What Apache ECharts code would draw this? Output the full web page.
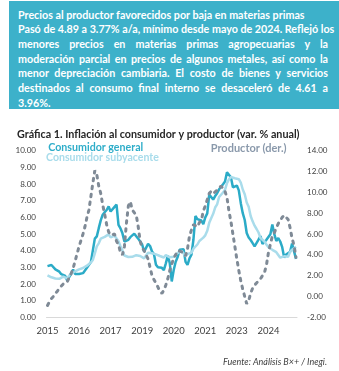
<!DOCTYPE html>
<html><head><meta charset="utf-8">
<script src="https://cdn.jsdelivr.net/npm/echarts@6/dist/echarts.min.js"></script>
<style>
html,body{margin:0;padding:0;background:#fff;width:339px;height:371px;overflow:hidden;}
#chart{position:absolute;left:0;top:0;width:339px;height:371px;}
#hdr{position:absolute;z-index:2;left:9px;top:1px;width:330px;height:108px;background:#3DB1CA;color:#fff;
 font-family:Lato,"Noto Sans",sans-serif;font-weight:700;box-sizing:border-box;padding:6.6px 11px 0 9px;}
#hdr div{line-height:14.7px;white-space:nowrap;}
#hdr div.j{text-align:justify;text-align-last:justify;}
</style></head>
<body>
<div id="chart"></div>
<div id="hdr">
<div id="h0">Precios al productor favorecidos por baja en materias primas</div>
<div class="j">Pasó de 4.89 a 3.77% a/a, mínimo desde mayo de 2024. Reflejó los</div>
<div class="j">menores precios en materias primas agropecuarias y la</div>
<div class="j">moderación parcial en precios de algunos metales, así como la</div>
<div class="j">menor depreciación cambiaria. El costo de bienes y servicios</div>
<div class="j">destinados al consumo final interno se desaceleró de 4.61 a</div>
<div>3.96%.</div>
</div>
<script>
// ---- data (monthly, Jan 2015 - Jul 2025) ----
const startYear = 2015, lastYear = 2025, lastMonth = 7;
const categories = [];
for (let y = startYear; y <= lastYear; y++) {
  for (let m = 1; m <= 12; m++) {
    if (y === lastYear && m > lastMonth) break;
    categories.push(y + '-' + String(m).padStart(2, '0'));
  }
}
const seriesNames = ['Consumidor general', 'Consumidor subyacente', 'Productor (der.)'];
const general = [
 3.07,3.00,3.14,3.06,2.88,2.87,2.74,2.59,2.52,2.48,2.21,2.13,
 2.61,2.87,2.60,2.54,2.60,2.54,2.65,2.73,2.97,3.06,3.31,3.36,
 4.72,4.86,5.35,5.82,6.16,6.31,6.44,6.66,6.35,6.37,6.63,6.77,
 5.55,5.34,5.04,4.55,4.51,4.65,4.81,4.90,5.02,4.90,4.72,4.83,
 4.37,3.94,4.00,4.41,4.28,3.95,3.78,3.16,3.00,3.02,2.97,2.83,
 3.24,3.70,3.25,2.15,2.84,3.33,3.62,4.05,4.01,4.09,3.33,3.15,
 3.54,3.76,4.67,6.08,5.89,5.88,5.81,5.59,6.00,6.24,7.37,7.36,
 7.07,7.28,7.45,7.68,7.65,7.99,8.15,8.70,8.70,8.41,7.80,7.82,
 7.91,7.62,6.85,6.25,5.84,5.06,4.79,4.64,4.45,4.26,4.32,4.66,
 4.88,4.40,4.42,4.65,4.69,4.98,5.57,4.99,4.58,4.76,4.55,4.21,
 3.59,3.77,3.80,3.93,4.42,4.32,3.51
];
const core = [
 2.52,2.49,2.40,2.31,2.33,2.32,2.31,2.34,2.44,2.47,2.34,2.41,
 2.64,2.66,2.76,2.82,2.88,2.97,2.96,2.97,3.10,3.22,3.29,3.44,
 3.84,4.26,4.44,4.72,4.78,4.83,4.94,4.98,4.80,4.77,4.90,4.87,
 4.56,4.27,4.02,3.71,3.69,3.62,3.63,3.63,3.67,3.73,3.63,3.68,
 3.60,3.54,3.55,3.87,3.77,3.85,3.82,3.78,3.75,3.68,3.65,3.59,
 3.73,3.66,3.60,3.50,3.64,3.71,3.85,3.97,3.99,3.98,3.66,3.80,
 3.84,3.87,4.12,4.13,4.37,4.58,4.66,4.78,4.92,5.19,5.67,5.94,
 6.21,6.59,6.78,7.22,7.28,7.49,7.65,8.05,8.28,8.42,8.51,8.35,
 8.45,8.29,8.09,7.67,7.39,6.89,6.64,6.08,5.76,5.50,5.30,5.09,
 4.76,4.64,4.55,4.37,4.21,4.13,4.05,4.00,3.91,3.80,3.58,3.65,
 3.66,3.65,3.64,3.93,4.06,4.13,4.23
];
const producer = [
 -0.86,-0.5,-0.2,0.0,0.3,0.5,0.8,1.0,1.2,1.3,1.4,1.5,
 2.2,2.7,3.4,4.1,4.8,5.4,6.0,6.7,7.6,8.3,9.6,10.9,
 12.1,11.7,10.6,9.9,8.8,7.9,6.9,6.2,5.9,5.9,6.0,5.3,
 5.0,4.2,4.0,4.8,7.0,8.7,9.1,8.3,8.4,7.8,6.7,5.3,
 4.7,4.4,4.0,3.6,2.8,2.0,1.6,1.3,0.9,0.5,0.3,0.6,
 1.1,1.7,2.5,3.1,3.7,4.0,4.4,4.4,4.3,4.1,3.9,4.6,
 5.8,6.4,6.9,7.0,6.7,7.1,7.3,8.2,8.7,9.3,9.9,10.1,
 9.9,9.9,10.2,10.4,10.6,10.4,10.1,9.5,8.2,7.2,6.0,4.8,
 3.6,2.5,1.5,0.7,0.0,-0.7,-0.4,0.3,0.8,1.1,1.3,1.4,
 1.7,2.0,2.3,3.0,4.2,5.0,5.8,6.1,6.6,7.0,7.3,7.6,
 7.8,7.9,7.4,6.6,5.6,4.89,3.77
];
const leftAxis = {min: 0, max: 10, interval: 1};
const rightAxis = {min: -2, max: 14, interval: 2};
const titleText = 'Gráfica 1. Inflación al consumidor y productor (var. % anual)';
const sourceText = 'Fuente: Análisis B×+ / Inegi.';

// ---- font fitting helper ----
const ctx = document.createElement('canvas').getContext('2d');
function fit(text, weight, style, family, target) {
  ctx.font = style + ' ' + weight + ' 100px ' + family;
  return 100 * target / ctx.measureText(text).width;
}
const FAM = 'Lato';
const hdrSize = fit('Precios al productor favorecidos por baja en materias primas', 'bold', 'normal', FAM, 287);
document.getElementById('hdr').style.fontSize = hdrSize.toFixed(2) + 'px';
const titleSize = fit(titleText, 'bold', 'normal', FAM, 283);
const lg1 = fit(seriesNames[0], 'bold', 'normal', FAM, 95);
const lg2 = fit(seriesNames[1], 'bold', 'normal', FAM, 113);
const lg3 = fit(seriesNames[2], 'bold', 'normal', FAM, 76);
const yLab = fit('10.00', 'normal', 'normal', FAM, 20.5);
const xLab = fit('2015', 'normal', 'normal', FAM, 22);
const srcSize = fit(sourceText, 'normal', 'italic', FAM, 104);

const C_GEN = '#2BABC7', C_CORE = '#A9DCEB', C_PROD = '#7F8A96';
const chart = echarts.init(document.getElementById('chart'), null, {renderer: 'canvas'});
function lgd(name, color, left, cy, size) {
  const lh = Math.round(size + 2);
  return {
    data: [{name: name, textStyle: {color: color}}],
    left: left - 5, top: cy - lh / 2, padding: 0, itemWidth: 0, itemHeight: 0,
    selectedMode: false, icon: 'rect',
    textStyle: {fontFamily: FAM, fontWeight: 'bold', fontSize: size, lineHeight: lh, color: color}
  };
}
chart.setOption({
  animation: false,
  textStyle: {fontFamily: FAM},
  title: {
    text: titleText, left: 17, top: 135 - (titleSize + 2) / 2, padding: 0,
    textStyle: {fontFamily: FAM, fontWeight: 'bold', fontSize: titleSize, lineHeight: titleSize + 2, color: '#262626'}
  },
  legend: [
    lgd(seriesNames[0], '#2EADC9', 48.3, 147.5, lg1),
    lgd(seriesNames[1], '#A8DCEB', 46, 157.3, lg2),
    lgd(seriesNames[2], '#8A99AB', 210.7, 148.3, lg3)
  ],
  grid: {left: 46.5, right: 42, top: 150.7, bottom: 371 - 317.3, containLabel: false},
  xAxis: {
    type: 'category', data: categories, boundaryGap: true,
    axisLine: {lineStyle: {color: '#D9D9D9', width: 1}},
    axisTick: {show: false},
    splitLine: {show: false},
    axisLabel: {interval: 15, margin: 9, color: '#404040', fontFamily: FAM, fontSize: xLab,
      formatter: v => v.slice(0, 4)}
  },
  yAxis: [
    {type: 'value', min: leftAxis.min, max: leftAxis.max, interval: leftAxis.interval,
     axisLine: {show: false}, axisTick: {show: false}, splitLine: {show: false},
     axisLabel: {margin: 10.5, color: '#404040', fontFamily: FAM, fontSize: yLab, formatter: v => v.toFixed(2)}},
    {type: 'value', min: rightAxis.min, max: rightAxis.max, interval: rightAxis.interval, position: 'right',
     axisLine: {show: false}, axisTick: {show: false}, splitLine: {show: false},
     axisLabel: {margin: 10, color: '#404040', fontFamily: FAM, fontSize: yLab, formatter: v => v.toFixed(2)}}
  ],
  graphic: [{
    type: 'text', right: 12, top: 362.7 - srcSize / 2 - 1,
    style: {text: sourceText, fill: '#404040', font: 'italic ' + srcSize.toFixed(2) + 'px ' + FAM}
  }],
  series: [
    {name: seriesNames[0], type: 'line', data: general, yAxisIndex: 0, symbol: 'none',
     lineStyle: {color: C_GEN, width: 2.5}, itemStyle: {color: C_GEN}, z: 2},
    {name: seriesNames[1], type: 'line', data: core, yAxisIndex: 0, symbol: 'none',
     lineStyle: {color: C_CORE, width: 2.5}, itemStyle: {color: C_CORE}, z: 2},
    {name: seriesNames[2], type: 'line', data: producer, yAxisIndex: 1, symbol: 'none',
     lineStyle: {color: C_PROD, width: 3, type: [2.5, 5.5], cap: 'round'}, itemStyle: {color: C_PROD}, z: 3}
  ]
});
</script>
</body></html>
